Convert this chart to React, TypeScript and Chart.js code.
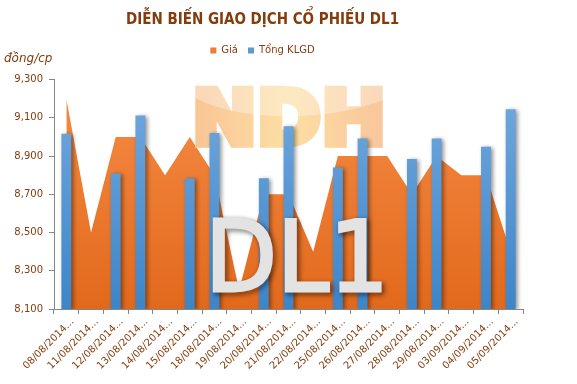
import React, { useEffect, useRef } from 'react';
import { Chart, registerables } from 'chart.js';

Chart.register(...registerables);

// ---- data ----
const categories = [
  '08/08/2014...', '11/08/2014...', '12/08/2014...', '13/08/2014...', '14/08/2014...',
  '15/08/2014...', '18/08/2014...', '19/08/2014...', '20/08/2014...', '21/08/2014...',
  '22/08/2014...', '25/08/2014...', '26/08/2014...', '27/08/2014...', '28/08/2014...',
  '29/08/2014...', '03/09/2014...', '04/09/2014...', '05/09/2014...',
];
const priceValues = [9200, 8500, 9000, 9000, 8800, 9000, 8800, 8200, 8700, 8700, 8400, 8900, 8900, 8900, 8700, 8900, 8800, 8800, 8400];
const volumeValues = [22900, null, 17700, 25300, null, 17100, 23000, null, 17100, 23900, null, 18500, 22300, null, 19600, 22300, null, 21200, 26100];
const priceAxis = [8100, 9300, 200]; // min, max, step
const volumeAxis = [0, 30000, 5000];
const seriesNames = ['Giá', 'Tổng KLGD'];
const TITLE = 'DIỄN BIẾN GIAO DỊCH CỔ PHIẾU DL1';
const UNIT_LABEL = 'đồng/cp';
const WATERMARK_TOP = 'NDH';
const WATERMARK_CODE = 'DL1';

const BROWN = '#843C0C';
const AXIS_GRAY = '#868686';
const FONT = "'DejaVu Sans', 'Noto Sans', sans-serif";

const fmt = (v: any) => Number(v).toLocaleString('en-US');

function areaFill(c: any) {
  const chart = c.chart;
  const a = chart.chartArea;
  if (!a) return '#ED7D31';
  const g = chart.ctx.createLinearGradient(0, a.top, 0, a.bottom);
  g.addColorStop(0, '#F68C45');
  g.addColorStop(1, '#E2691C');
  return g;
}
function barFill(c: any) {
  const chart = c.chart;
  const a = chart.chartArea;
  if (!a) return '#5B9BD5';
  const g = chart.ctx.createLinearGradient(0, a.top, 0, a.bottom);
  g.addColorStop(0, '#74AADF');
  g.addColorStop(1, '#3D85C9');
  return g;
}

// draws text stretched to fit a box; t = extra outline thickness (local units)
function drawFitText(
  ctx: CanvasRenderingContext2D, text: string, font: string,
  x: number, top: number, baseline: number, width: number, t: number,
  fill: (w: number, h: number) => any, shadow?: () => void,
) {
  ctx.save();
  ctx.font = font;
  ctx.textBaseline = 'alphabetic';
  ctx.textAlign = 'left';
  const m = ctx.measureText(text);
  const mw = m.actualBoundingBoxLeft + m.actualBoundingBoxRight;
  const mh = m.actualBoundingBoxAscent;
  const sx = width / (mw + t);
  const sy = (baseline - top) / (mh + t);
  ctx.translate(x + (t / 2) * sx, baseline - (t / 2) * sy);
  ctx.scale(sx, sy);
  ctx.lineJoin = 'miter';
  ctx.miterLimit = 2;
  ctx.lineWidth = t;
  const style = fill(mw, mh);
  ctx.fillStyle = style;
  ctx.strokeStyle = style;
  if (shadow) shadow();
  if (t > 0) ctx.strokeText(text, m.actualBoundingBoxLeft, 0);
  else ctx.fillText(text, m.actualBoundingBoxLeft, 0);
  ctx.shadowColor = 'rgba(0,0,0,0)';
  ctx.fillText(text, m.actualBoundingBoxLeft, 0);
  ctx.restore();
}

function drawNDH(ctx: CanvasRenderingContext2D) {
  const off = document.createElement('canvas');
  off.width = ctx.canvas.width;
  off.height = ctx.canvas.height;
  const o = off.getContext('2d') as CanvasRenderingContext2D;
  drawFitText(o, WATERMARK_TOP, `bold 92px ${FONT}`, 195, 85, 148, 188, 9, (w: number) => {
    const g = o.createLinearGradient(0, 0, w, 0);
    g.addColorStop(0, '#F9C696');
    g.addColorStop(0.5, '#FDDFA4');
    g.addColorStop(1, '#F9C79B');
    return g;
  });
  // glossy highlight on the upper part of the letters
  o.globalCompositeOperation = 'source-atop';
  o.fillStyle = 'rgba(255,255,255,0.32)';
  o.beginPath();
  o.ellipse(300, 66, 125, 50, -0.05, 0, Math.PI * 2);
  o.fill();
  ctx.drawImage(off, 0, 0);
}

const decorPlugin = {
  id: 'decor',
  beforeDatasetDraw(chart: any) {
    const ctx = chart.ctx;
    ctx.save();
    ctx.shadowColor = 'rgba(0,0,0,0.45)';
    ctx.shadowBlur = 4;
    ctx.shadowOffsetX = 2;
    ctx.shadowOffsetY = 1;
  },
  afterDatasetDraw(chart: any, args: any) {
    const ctx = chart.ctx;
    ctx.restore();
    if (args.index === 0) drawNDH(ctx);
  },
  afterDatasetsDraw(chart: any) {
    const ctx = chart.ctx;
    drawFitText(ctx, WATERMARK_CODE, `100px ${FONT}`, 212, 218, 292, 170, 3, () => '#E3E3E3', () => {
      ctx.shadowColor = 'rgba(0,0,0,0.75)';
      ctx.shadowBlur = 5;
      ctx.shadowOffsetX = 2;
      ctx.shadowOffsetY = 2;
    });
  },
  afterDraw(chart: any) {
    const ctx = chart.ctx;
    ctx.save();
    ctx.font = `italic 12px ${FONT}`;
    ctx.fillStyle = BROWN;
    ctx.textAlign = 'left';
    ctx.textBaseline = 'middle';
    ctx.fillText(UNIT_LABEL, 4, 59);
    ctx.restore();
  },
};

export default function App() {
  const ref = useRef<HTMLCanvasElement | null>(null);
  useEffect(() => {
    if (!ref.current) return;
    Chart.defaults.font.family = FONT;
    const chart = new Chart(ref.current, {
      type: 'bar',
      data: {
        labels: categories,
        datasets: [
          {
            type: 'line',
            label: seriesNames[0],
            data: priceValues,
            yAxisID: 'y',
            fill: 'start',
            backgroundColor: areaFill,
            borderWidth: 0,
            borderColor: 'rgba(0,0,0,0)',
            pointRadius: 0,
            tension: 0,
            order: 2,
          } as any,
          {
            type: 'bar',
            label: seriesNames[1],
            data: volumeValues,
            yAxisID: 'y1',
            backgroundColor: barFill,
            borderWidth: 0,
            barPercentage: 0.4,
            categoryPercentage: 1,
            order: 1,
          } as any,
        ],
      },
      options: {
        responsive: false,
        animation: false,
        layout: { padding: { left: 0, right: 52, top: 0, bottom: 0 } },
        plugins: {
          title: {
            display: true,
            text: TITLE,
            color: BROWN,
            font: { family: "'Liberation Sans Narrow', 'DejaVu Sans Condensed', 'Liberation Sans', sans-serif", size: 15, weight: 'bold', lineHeight: 1.2 },
            padding: { top: 11, bottom: 6.5 },
          },
          legend: {
            display: true,
            position: 'top',
            labels: {
              boxWidth: 6,
              boxHeight: 6,
              padding: 10,
              color: BROWN,
              font: { size: 10 },
              generateLabels: () => [
                { text: seriesNames[0], fillStyle: '#ED7D31', strokeStyle: '#ED7D31', lineWidth: 0, datasetIndex: 0, fontColor: BROWN },
                { text: seriesNames[1], fillStyle: '#5B9BD5', strokeStyle: '#5B9BD5', lineWidth: 0, datasetIndex: 1, fontColor: BROWN },
              ],
            },
          },
          subtitle: {
            display: true,
            text: '',
            weight: 500,
            padding: 0,
            font: { size: 14, lineHeight: 1 },
          } as any,
          tooltip: { enabled: false },
        },
        scales: {
          x: {
            type: 'category',
            offset: true,
            grid: { display: true, offset: true, drawOnChartArea: false, drawTicks: true, tickLength: 5, color: AXIS_GRAY },
            border: { display: true, color: AXIS_GRAY },
            ticks: { color: BROWN, font: { size: 10 }, minRotation: 45, maxRotation: 45, autoSkip: false, padding: 2, labelOffset: 6 },
            afterFit: (s: any) => { s.height = 75; },
          },
          y: {
            position: 'left',
            min: priceAxis[0],
            max: priceAxis[1],
            ticks: { stepSize: priceAxis[2], color: BROWN, font: { size: 10 }, padding: 6, callback: fmt },
            grid: { display: true, drawOnChartArea: false, drawTicks: true, tickLength: 5, color: AXIS_GRAY },
            border: { display: true, color: AXIS_GRAY },
            afterFit: (s: any) => { s.width = 54; },
          },
          y1: {
            position: 'right',
            min: volumeAxis[0],
            max: volumeAxis[1],
            ticks: { stepSize: volumeAxis[2], color: BROWN, font: { size: 10 }, padding: 12, callback: fmt },
            grid: { display: false, drawTicks: false },
            border: { display: false },
            afterFit: (s: any) => { s.width = 2; },
          },
        },
      } as any,
      plugins: [decorPlugin as any],
    });
    return () => chart.destroy();
  }, []);
  return (
    <div style={{ position: 'absolute', left: 0, top: 0, width: 577, height: 384, background: '#fff' }}>
      <canvas ref={ref} width={577} height={384} style={{ display: 'block' }} />
    </div>
  );
}
